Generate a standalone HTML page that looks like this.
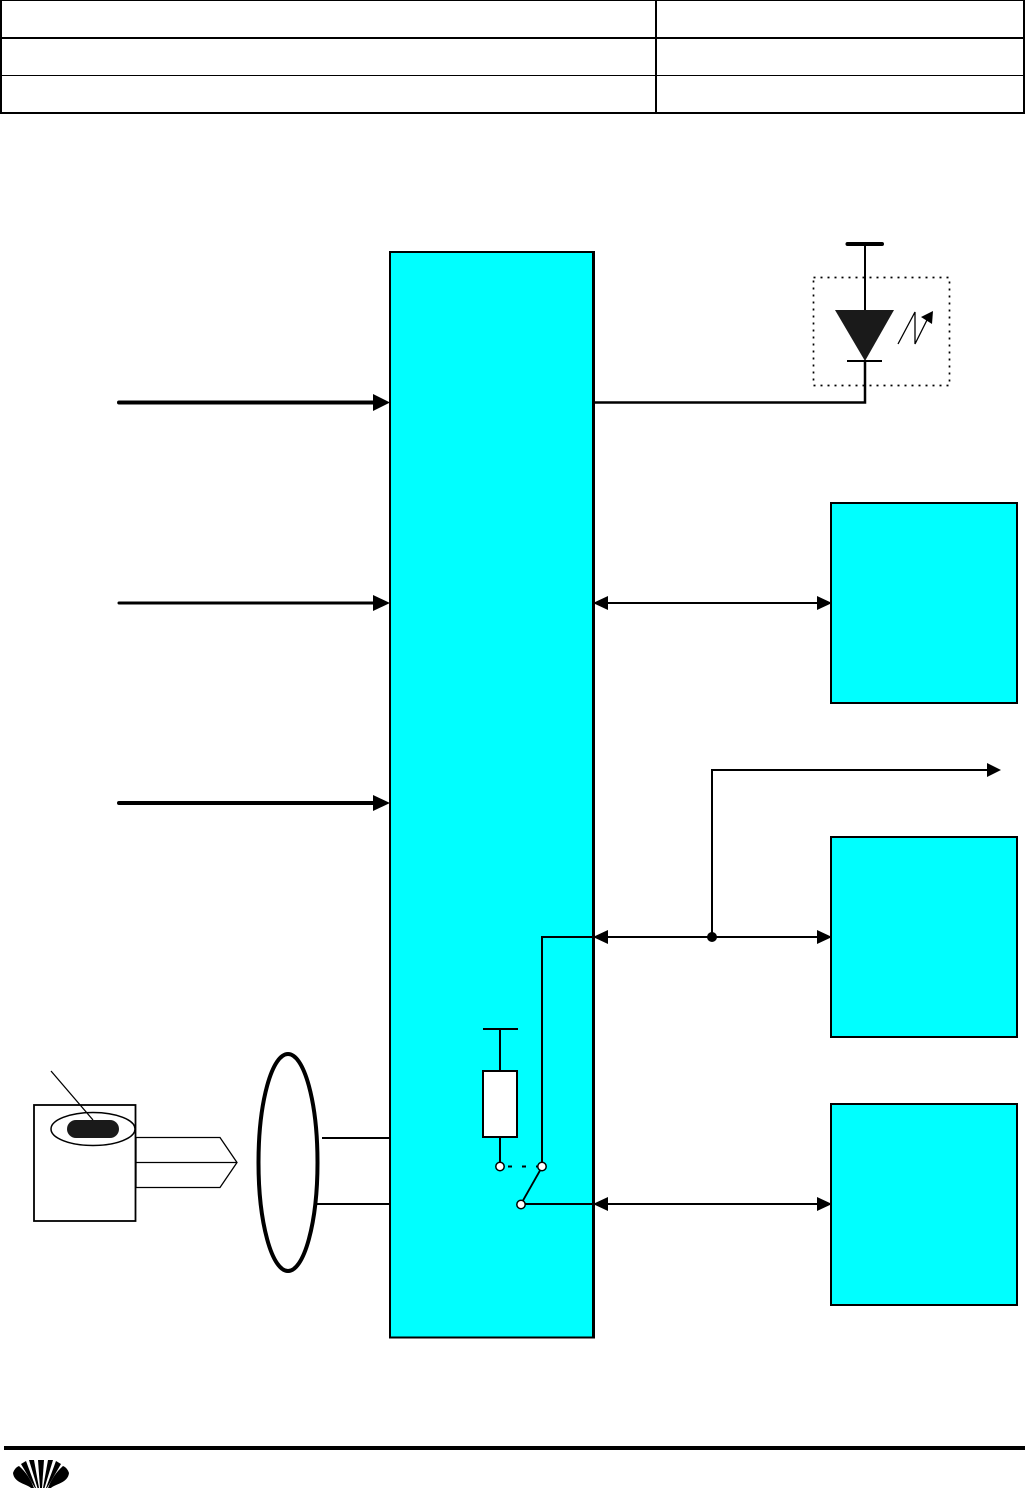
<!DOCTYPE html>
<html>
<head>
<meta charset="utf-8">
<style>
html,body{margin:0;padding:0;background:#fff;width:1025px;height:1488px;overflow:hidden}
svg{display:block}
</style>
</head>
<body>
<svg width="1025" height="1488" viewBox="0 0 1025 1488" xmlns="http://www.w3.org/2000/svg">
<rect width="1025" height="1488" fill="#fff"/>
<!-- table -->
<g stroke="#000" fill="none">
<line x1="0" y1="0.5" x2="1025" y2="0.5" stroke-width="1"/>
<line x1="0" y1="38" x2="1025" y2="38" stroke-width="2"/>
<line x1="0" y1="75.5" x2="1025" y2="75.5" stroke-width="1"/>
<line x1="0" y1="113" x2="1025" y2="113" stroke-width="2"/>
<line x1="1" y1="0" x2="1" y2="114" stroke-width="2"/>
<line x1="656" y1="0" x2="656" y2="114" stroke-width="2"/>
<line x1="1024" y1="0" x2="1024" y2="114" stroke-width="2"/>
</g>
<!-- main block -->
<rect x="390" y="252" width="203" height="1085.500" fill="#0ff" stroke="#000" stroke-width="2"/>
<line x1="593.500" y1="251" x2="593.500" y2="1338.500" stroke="#000" stroke-width="3"/>
<!-- right blocks -->
<g fill="#0ff" stroke="#000" stroke-width="2">
<rect x="831" y="503" width="186" height="200"/>
<rect x="831" y="837" width="186" height="200"/>
<rect x="831" y="1104" width="186" height="201"/>
</g>
<!-- left input arrows -->
<g stroke="#000" fill="none" stroke-linecap="round">
<line x1="119" y1="402.500" x2="376" y2="402.500" stroke-width="4"/>
<line x1="119" y1="603" x2="376" y2="603" stroke-width="3"/>
<line x1="119" y1="803" x2="376" y2="803" stroke-width="4"/>
</g>
<g fill="#000">
<polygon points="373,394 390,402.500 373,411"/>
<polygon points="373,595 390,603 373,611"/>
<polygon points="373,795 390,803 373,811"/>
</g>
<!-- LED -->
<rect x="813.500" y="277.500" width="136" height="108" fill="none" stroke="#000" stroke-width="1.700" stroke-dasharray="2 5"/>
<line x1="847.500" y1="244" x2="882" y2="244" stroke="#000" stroke-width="4" stroke-linecap="round"/>
<line x1="865" y1="244" x2="865" y2="312" stroke="#000" stroke-width="2"/>
<polygon points="835,310 894,310 865,361" fill="#1a1a1a"/>
<line x1="847" y1="361" x2="882" y2="361" stroke="#000" stroke-width="2"/>
<polyline points="865,360 865,402.500 595,402.500" fill="none" stroke="#000" stroke-width="2.500"/>
<polyline points="898,344 915,312 915,344 927,320" fill="none" stroke="#000" stroke-width="1.300"/>
<polygon points="921,317 933,311 932,324" fill="#000"/>
<!-- bidirectional arrows -->
<g stroke="#000" stroke-width="2" fill="none">
<line x1="600" y1="603" x2="825" y2="603"/>
<line x1="600" y1="937" x2="825" y2="937"/>
<line x1="600" y1="1204" x2="825" y2="1204"/>
<polyline points="712,937 712,770 992,770"/>
</g>
<g fill="#000">
<polygon points="593,603 608,596 608,610"/>
<polygon points="832,603 817,596 817,610"/>
<polygon points="593,937 608,930 608,944"/>
<polygon points="832,937 817,930 817,944"/>
<polygon points="593,1204 608,1197 608,1211"/>
<polygon points="832,1204 817,1197 817,1211"/>
<polygon points="1001,770 987,763 987,777"/>
<circle cx="712" cy="937" r="5"/>
</g>
<!-- inner circuit -->
<g stroke="#000" fill="none">
<polyline points="594,937 542,937 542,1166" stroke-width="2"/>
<line x1="483" y1="1029" x2="518" y2="1029" stroke-width="2"/>
<line x1="500" y1="1029" x2="500" y2="1071" stroke-width="2"/>
<rect x="483" y="1071" width="34" height="66" fill="#fff" stroke-width="2"/>
<line x1="500" y1="1137" x2="500" y2="1166" stroke-width="2"/>
<line x1="508" y1="1166.500" x2="538" y2="1166.500" stroke-width="2" stroke-dasharray="4 10"/>
<line x1="542" y1="1167" x2="521" y2="1204" stroke-width="1.800"/>
<line x1="521" y1="1204" x2="594" y2="1204" stroke-width="2"/>
</g>
<g fill="#fff" stroke="#000" stroke-width="1.500">
<circle cx="500" cy="1166.500" r="4.200"/>
<circle cx="542" cy="1166.500" r="4.200"/>
<circle cx="521" cy="1204.500" r="4.200"/>
</g>
<!-- ellipse with lines -->
<ellipse cx="288" cy="1162.500" rx="29.500" ry="108.500" fill="#fff" stroke="#000" stroke-width="4"/>
<line x1="322" y1="1138" x2="390" y2="1138" stroke="#000" stroke-width="2"/>
<line x1="317" y1="1204" x2="390" y2="1204" stroke="#000" stroke-width="2"/>
<!-- key / connector -->
<polygon points="136,1137.500 220,1137.500 237,1162.500 220,1187.500 136,1187.500" fill="#fff" stroke="#000" stroke-width="1.300"/>
<line x1="136" y1="1162.500" x2="237" y2="1162.500" stroke="#000" stroke-width="1.300"/>
<rect x="34" y="1105" width="101.500" height="116" fill="#fff" stroke="#000" stroke-width="1.800"/>
<ellipse cx="93" cy="1129" rx="42" ry="16.500" fill="#fff" stroke="#000" stroke-width="1.500"/>
<rect x="67" y="1120" width="52" height="18" rx="9" ry="9" fill="#1a1a1a"/>
<line x1="51" y1="1071" x2="93" y2="1120" stroke="#000" stroke-width="1.300"/>
<!-- footer -->
<rect x="4" y="1446" width="1021" height="4" fill="#000"/>
<g fill="#000">
<path d="M13 1473 C14 1470 16 1467 19 1466 C26 1472 31 1480 34 1488 L31 1488 C27 1484 14 1483 13 1473Z"/>
<path d="M69 1473 C68 1470 66 1467 63 1466 C56 1472 51 1480 48 1488 L51 1488 C55 1484 68 1483 69 1473Z"/>
<polygon points="21,1464 26,1461 36,1488 35,1488"/>
<polygon points="61,1464 56,1461 46,1488 47,1488"/>
<polygon points="29,1460 34,1460 39,1488 37.500,1488"/>
<polygon points="53,1460 48,1460 43,1488 44.500,1488"/>
<polygon points="38,1460 44,1460 42,1488 40,1488"/>
</g>
</svg>
</body>
</html>
